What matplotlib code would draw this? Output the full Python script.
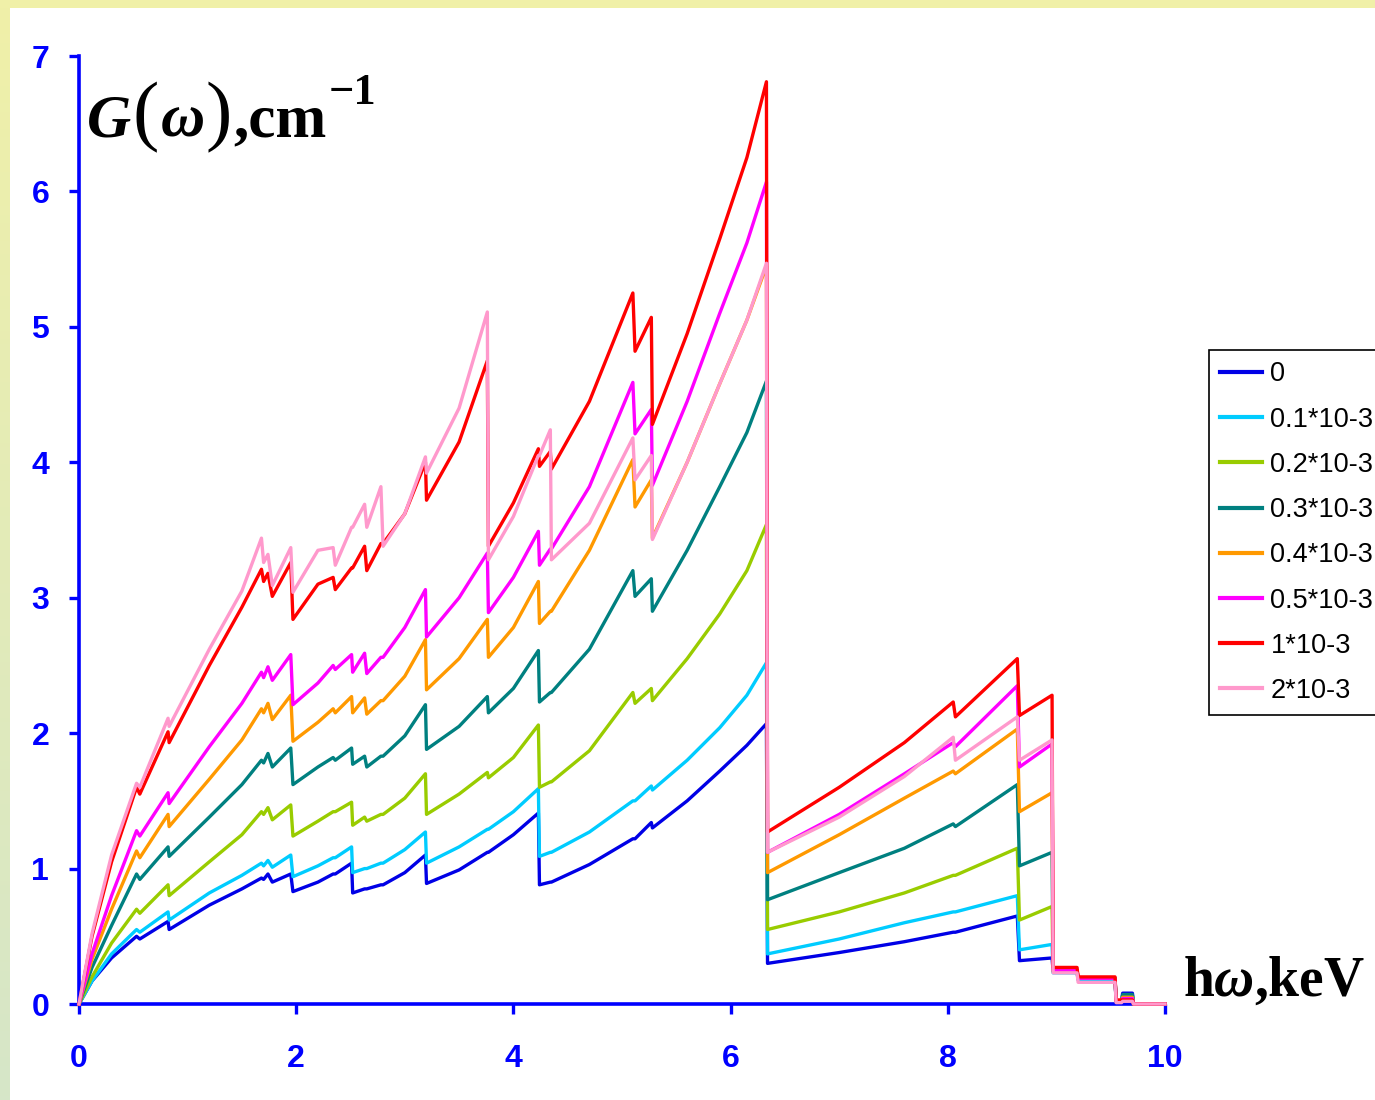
import matplotlib
matplotlib.use('Agg')
import matplotlib.pyplot as plt
import numpy as np
from matplotlib.offsetbox import TextArea, HPacker, AnchoredOffsetbox
from matplotlib.patches import Rectangle

plt.rcParams['mathtext.fontset'] = 'custom'
plt.rcParams['mathtext.rm'] = 'Liberation Serif:bold'
plt.rcParams['mathtext.it'] = 'Liberation Serif:bold:italic'
plt.rcParams['mathtext.bf'] = 'Liberation Serif:bold'

# ---------------- data ----------------
energy_keV = [0.00, 0.12, 0.30, 0.53, 0.56, 0.82, 0.83, 1.20, 1.50, 1.68,
              1.70, 1.74, 1.78, 1.95, 1.97, 2.20, 2.34, 2.36, 2.51, 2.52,
              2.63, 2.65, 2.78, 2.80, 3.00, 3.19, 3.20, 3.50, 3.76, 3.77,
              4.00, 4.23, 4.24, 4.34, 4.35, 4.70, 5.10, 5.12, 5.27, 5.28,
              5.60, 5.90, 6.15, 6.33, 6.34, 7.00, 7.60, 8.05, 8.07, 8.64,
              8.66, 8.96, 8.97, 9.19, 9.20, 9.54, 9.55, 9.60, 9.61, 9.70,
              9.71, 10.00]

g_0 = [0, 0.17, 0.34, 0.50, 0.48, 0.61, 0.55, 0.73, 0.85, 0.93,
       0.92, 0.96, 0.90, 0.96, 0.83, 0.90, 0.96, 0.96, 1.04, 0.82,
       0.85, 0.85, 0.88, 0.88, 0.97, 1.10, 0.89, 0.99, 1.12, 1.12,
       1.25, 1.41, 0.88, 0.90, 0.90, 1.03, 1.22, 1.22, 1.34, 1.30,
       1.50, 1.72, 1.91, 2.07, 0.30, 0.38, 0.46, 0.53, 0.53, 0.65,
       0.32, 0.34, 0.24, 0.24, 0.18, 0.18, 0.02, 0.02, 0.08, 0.08,
       0.0, 0.0]
g_01 = [0, 0.17, 0.37, 0.55, 0.53, 0.68, 0.62, 0.82, 0.95, 1.04,
        1.02, 1.06, 1.01, 1.10, 0.94, 1.02, 1.08, 1.08, 1.16, 0.97,
        1.00, 1.00, 1.04, 1.04, 1.14, 1.27, 1.04, 1.16, 1.29, 1.29,
        1.42, 1.59, 1.09, 1.12, 1.12, 1.27, 1.50, 1.50, 1.61, 1.58,
        1.80, 2.04, 2.28, 2.52, 0.37, 0.48, 0.60, 0.68, 0.68, 0.80,
        0.40, 0.44, 0.23, 0.23, 0.18, 0.18, 0.02, 0.02, 0.06, 0.06,
        0.0, 0.0]
g_02 = [0, 0.20, 0.45, 0.70, 0.67, 0.88, 0.80, 1.05, 1.25, 1.42,
        1.40, 1.45, 1.36, 1.47, 1.24, 1.35, 1.42, 1.42, 1.49, 1.32,
        1.38, 1.35, 1.40, 1.40, 1.52, 1.70, 1.40, 1.55, 1.71, 1.67,
        1.82, 2.06, 1.60, 1.64, 1.64, 1.87, 2.30, 2.22, 2.33, 2.24,
        2.55, 2.88, 3.20, 3.54, 0.55, 0.68, 0.82, 0.95, 0.95, 1.15,
        0.62, 0.72, 0.24, 0.24, 0.19, 0.19, 0.02, 0.02, 0.06, 0.06,
        0.0, 0.0]
g_03 = [0, 0.27, 0.58, 0.96, 0.92, 1.16, 1.09, 1.38, 1.62, 1.80,
        1.78, 1.85, 1.75, 1.89, 1.62, 1.75, 1.82, 1.80, 1.89, 1.77,
        1.83, 1.75, 1.83, 1.83, 1.98, 2.21, 1.88, 2.05, 2.27, 2.15,
        2.33, 2.61, 2.23, 2.30, 2.30, 2.62, 3.20, 3.01, 3.14, 2.90,
        3.35, 3.82, 4.22, 4.60, 0.77, 0.97, 1.15, 1.33, 1.31, 1.62,
        1.02, 1.12, 0.25, 0.25, 0.19, 0.19, 0.02, 0.02, 0.07, 0.07,
        0.0, 0.0]
g_04 = [0, 0.33, 0.70, 1.13, 1.08, 1.40, 1.31, 1.66, 1.95, 2.18,
        2.15, 2.22, 2.10, 2.28, 1.94, 2.08, 2.18, 2.15, 2.27, 2.15,
        2.26, 2.14, 2.24, 2.24, 2.42, 2.69, 2.32, 2.55, 2.84, 2.56,
        2.78, 3.12, 2.81, 2.90, 2.90, 3.35, 4.02, 3.67, 3.87, 3.44,
        4.00, 4.58, 5.05, 5.45, 0.97, 1.25, 1.52, 1.72, 1.70, 2.03,
        1.42, 1.56, 0.25, 0.25, 0.19, 0.19, 0.02, 0.02, 0.05, 0.05,
        0.0, 0.0]
g_05 = [0, 0.37, 0.80, 1.28, 1.24, 1.56, 1.48, 1.90, 2.22, 2.45,
        2.41, 2.49, 2.39, 2.58, 2.21, 2.37, 2.50, 2.47, 2.58, 2.45,
        2.59, 2.44, 2.56, 2.56, 2.78, 3.06, 2.71, 3.00, 3.33, 2.89,
        3.15, 3.49, 3.24, 3.36, 3.36, 3.82, 4.59, 4.21, 4.39, 3.83,
        4.45, 5.10, 5.62, 6.07, 1.12, 1.40, 1.70, 1.93, 1.90, 2.35,
        1.75, 1.92, 0.25, 0.25, 0.19, 0.19, 0.02, 0.02, 0.04, 0.04,
        0.0, 0.0]
g_1 = [0, 0.50, 1.05, 1.60, 1.55, 2.01, 1.93, 2.50, 2.93, 3.21,
       3.12, 3.18, 3.01, 3.26, 2.84, 3.10, 3.15, 3.06, 3.22, 3.22,
       3.38, 3.20, 3.40, 3.40, 3.62, 4.00, 3.72, 4.15, 4.75, 3.38,
       3.70, 4.10, 3.97, 4.08, 3.95, 4.45, 5.25, 4.82, 5.07, 4.28,
       4.95, 5.65, 6.25, 6.81, 1.27, 1.60, 1.93, 2.23, 2.12, 2.55,
       2.13, 2.28, 0.27, 0.27, 0.20, 0.20, 0.03, 0.03, 0.03, 0.03,
       0.0, 0.0]
g_2 = [0, 0.52, 1.10, 1.63, 1.60, 2.11, 2.05, 2.62, 3.05, 3.44,
       3.26, 3.32, 3.09, 3.37, 3.04, 3.35, 3.37, 3.24, 3.52, 3.52,
       3.69, 3.52, 3.82, 3.38, 3.62, 4.04, 3.92, 4.40, 5.11, 3.28,
       3.60, 4.05, 4.05, 4.24, 3.28, 3.55, 4.18, 3.87, 4.05, 3.43,
       4.00, 4.58, 5.05, 5.47, 1.12, 1.38, 1.68, 1.97, 1.80, 2.12,
       1.80, 1.95, 0.23, 0.23, 0.16, 0.16, 0.01, 0.01, 0.02, 0.02,
       0.0, 0.0]

series_labels = ['0', '0.1*10-3', '0.2*10-3', '0.3*10-3', '0.4*10-3',
                 '0.5*10-3', '1*10-3', '2*10-3']
series_values = [g_0, g_01, g_02, g_03, g_04, g_05, g_1, g_2]
series_colors = ['#0000e6', '#00ccff', '#99cc00', '#008080', '#ff9900',
                 '#ff00ff', '#ff0000', '#ff99cc']

x_ticks = [0, 2, 4, 6, 8, 10]
y_ticks = [0, 1, 2, 3, 4, 5, 6, 7]

# ---------------- figure ----------------
W, H = 1375, 1100
fig = plt.figure(figsize=(W / 100, H / 100), dpi=100)
fig.patch.set_facecolor('white')

# decorative border (top yellow band, left yellow->green band)
fig.patches.append(Rectangle((0, 1 - 8 / H), 1, 8 / H, transform=fig.transFigure,
                             facecolor='#f0f0a8', edgecolor='none', zorder=-5))
band = fig.add_axes([0, 0, 10 / W, 1], zorder=-5)
c_top = np.array([240, 240, 168]) / 255
c_bot = np.array([214, 230, 200]) / 255
t = np.linspace(0, 1, 256)[:, None]
grad = (c_top[None, :] * (1 - t) + c_bot[None, :] * t)[:, None, :]
band.imshow(grad, aspect='auto', extent=[0, 1, 0, 1])
band.axis('off')

ax = fig.add_axes([79 / W, (H - 1004) / H, (1165 - 79) / W, (1004 - 56) / H])
ax.set_facecolor('none')

for vals, col, lab in zip(series_values, series_colors, series_labels):
    ax.plot(energy_keV, vals, color=col, lw=2.4, label=lab, clip_on=False,
            zorder=3, solid_joinstyle='round')

ax.set_xlim(0, 10)
ax.set_ylim(0, 7)
ax.set_xticks(x_ticks)
ax.set_yticks(y_ticks)
for s in ['top', 'right']:
    ax.spines[s].set_visible(False)
for s in ['left', 'bottom']:
    ax.spines[s].set_color('#0000ff')
    ax.spines[s].set_linewidth(2.6)
    ax.spines[s].set_zorder(2.5)

ax.tick_params(axis='both', direction='out', length=7.5, width=2.4,
               color='#0000ff', labelcolor='#0000ff', labelsize=23)
ax.tick_params(axis='x', pad=21)
ax.tick_params(axis='y', pad=14)
for lbl in ax.get_xticklabels() + ax.get_yticklabels():
    lbl.set_fontfamily('Liberation Sans')
    lbl.set_fontweight('bold')

# y-axis title G(omega), cm^-1
serif = 'Liberation Serif'
parts = [
    TextArea('G', textprops=dict(family=serif, weight='bold', style='italic', size=44)),
    TextArea('(', textprops=dict(family=serif, weight='normal', size=57)),
    TextArea('ω', textprops=dict(family=serif, weight='bold', style='italic', size=44)),
    TextArea(')', textprops=dict(family=serif, weight='normal', size=57)),
    TextArea(',cm', textprops=dict(family=serif, weight='bold', size=44)),
]
pack = HPacker(children=parts, align='baseline', pad=0, sep=1)
anch = AnchoredOffsetbox(loc='upper left', child=pack, pad=0, frameon=False,
                         bbox_to_anchor=(87 / W, 1 - 82 / H),
                         bbox_transform=fig.transFigure, borderpad=0)
fig.add_artist(anch)
fig.text(329 / W, (H - 104) / H, '\u22121', family=serif, weight='bold',
         size=32, ha='left', va='baseline')

# x-axis title
fig.text(1183 / W, (H - 996) / H, r'h$\omega$,keV', family=serif, weight='bold',
         size=40, ha='left', va='baseline')

# legend
leg = fig.legend(loc='upper left', bbox_to_anchor=(1209 / W, 1 - 350 / H),
                 bbox_transform=fig.transFigure, frameon=True, fancybox=False,
                 edgecolor='black', framealpha=1, facecolor='white',
                 prop={'family': 'Liberation Sans', 'size': 19.5},
                 handlelength=1.55, handletextpad=0.3, labelspacing=0.71,
                 borderpad=0.42, borderaxespad=0)
leg.get_frame().set_linewidth(1.2)
for h in leg.get_lines():
    h.set_linewidth(3)

fig.savefig('out.png', dpi=100)
